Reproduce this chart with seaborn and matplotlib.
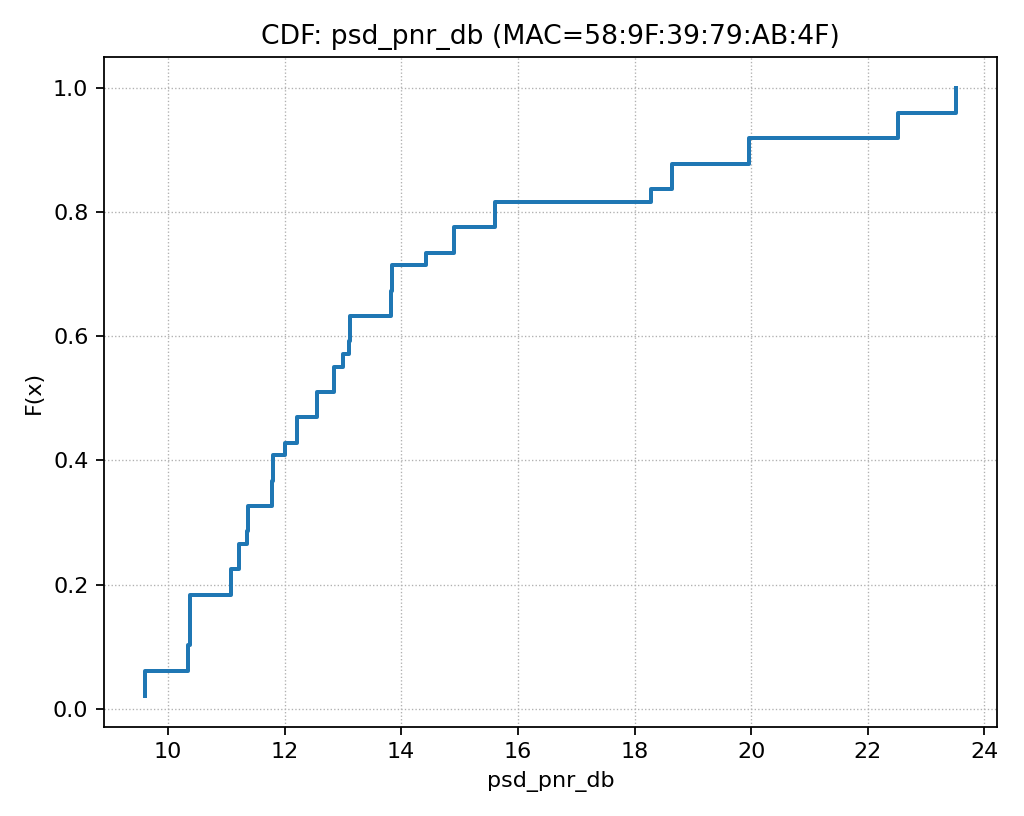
import numpy as np
import pandas as pd
import matplotlib
matplotlib.use("Agg")
import matplotlib.pyplot as plt
import seaborn as sns

# sorted psd_pnr_db samples (49 values)
psd_pnr_db = [9.6, 9.6, 9.6, 10.35, 10.35, 10.38, 10.38, 10.38, 10.38,
              11.08, 11.08, 11.22, 11.22, 11.35, 11.38, 11.38,
              11.78, 11.78, 11.8, 11.8, 12.0, 12.22, 12.22, 12.55, 12.55,
              12.85, 12.85, 13.0, 13.1, 13.12, 13.12, 13.82, 13.82, 13.85, 13.85,
              14.42, 14.9, 14.9, 15.6, 15.6, 18.28, 18.65, 18.65,
              19.97, 19.97, 22.52, 22.52, 23.52, 23.52]
mac = "58:9F:39:79:AB:4F"

x = np.sort(np.array(psd_pnr_db))
df = pd.DataFrame({"x": x, "F": np.arange(1, len(x) + 1) / len(x)})

fig, ax = plt.subplots(figsize=(6.4, 5.1), dpi=160)
sns.lineplot(data=df, x="x", y="F", drawstyle="steps-post", color="#1f77b4",
             linewidth=1.8, ax=ax, estimator=None, sort=False)
ax.set_title(f"CDF: psd_pnr_db (MAC={mac})")
ax.set_xlabel("psd_pnr_db")
ax.set_ylabel("F(x)")
ax.set_xticks(range(10, 25, 2))
ax.grid(True, linestyle=":", linewidth=0.6, color="#b0b0b0")
fig.tight_layout()
fig.savefig("out.png")
